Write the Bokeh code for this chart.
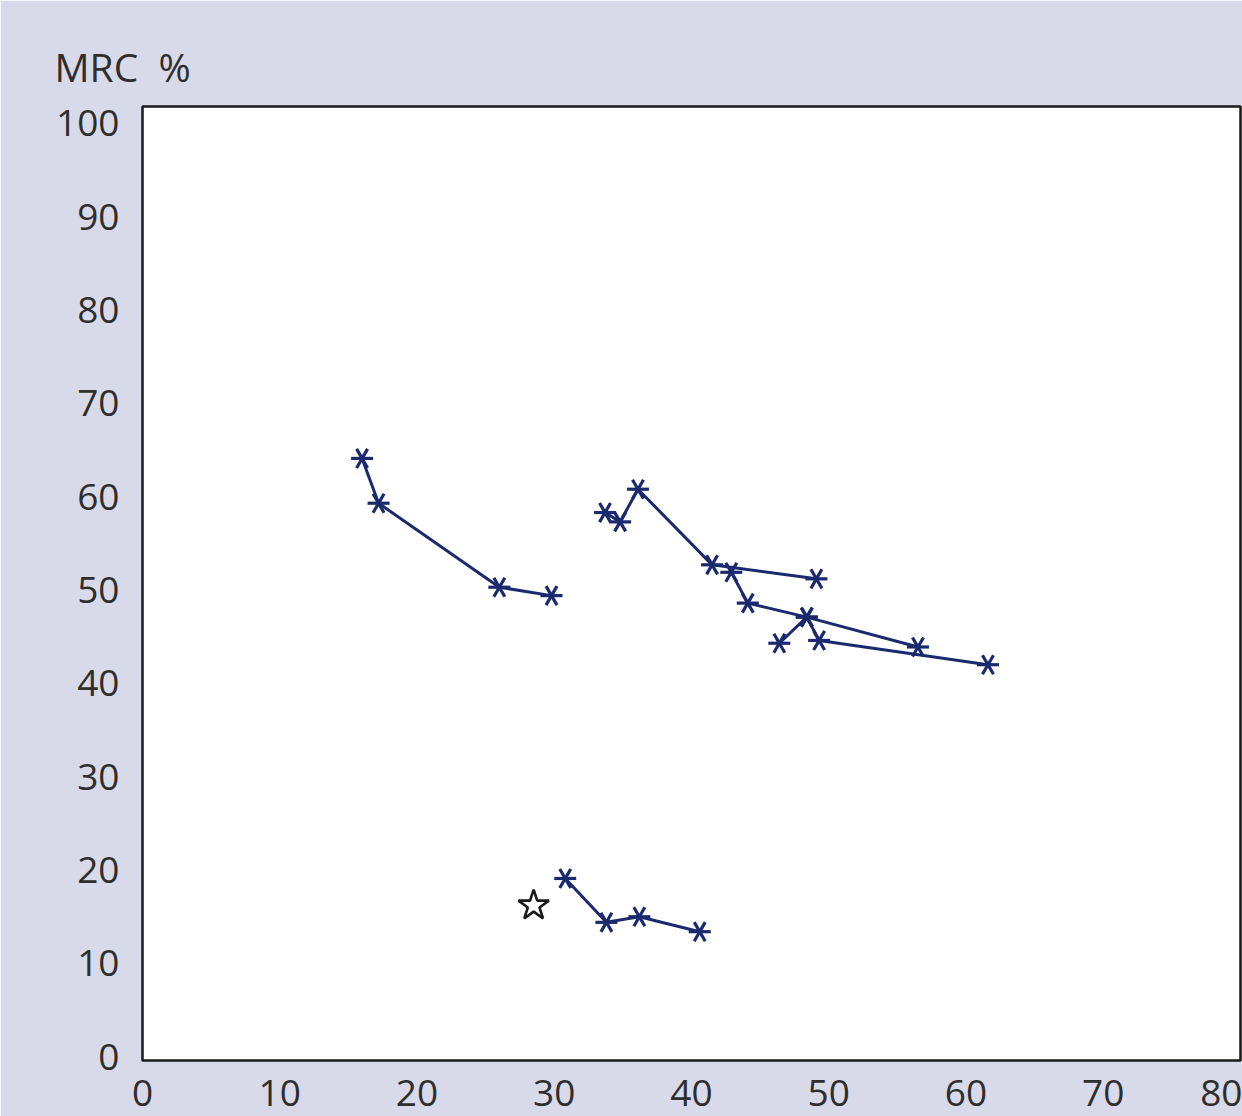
import math
from bokeh.plotting import figure
from bokeh.models import Range1d, FixedTicker
from bokeh.embed import file_html
from bokeh.resources import INLINE

# series (x: unnamed axis 0-80, y: MRC %)
s1_x = [16.0, 17.2, 26.0, 29.8]
s1_y = [64.1, 59.3, 50.3, 49.4]

s2_x = [33.7, 34.8, 36.1, 41.5, 49.1]
s2_y = [58.3, 57.3, 60.8, 52.7, 51.2]

s3_x = [42.9, 44.1, 48.4, 56.5]
s3_y = [51.9, 48.6, 47.1, 43.9]

s4_x = [46.4, 48.4, 49.3, 61.6]
s4_y = [44.3, 47.1, 44.6, 42.0]

s5_x = [30.8, 33.8, 36.2, 40.6]
s5_y = [19.1, 14.4, 15.0, 13.4]

star_x = [28.5]
star_y = [16.2]

x_ticks = [0, 10, 20, 30, 40, 50, 60, 70, 80]
y_ticks = [0, 10, 20, 30, 40, 50, 60, 70, 80, 90, 100]
y_title = "MRC  %"

BG = "#d9dae9"
NAVY = "#1b2a6e"
TXT = "#2e2e2e"
FONT = "Open Sans"

p = figure(width=1242, height=1116, output_backend="svg", toolbar_location=None,
           x_range=Range1d(0, 80), y_range=Range1d(-0.4, 101.8),
           min_border_left=142, min_border_top=106, min_border_bottom=56, min_border_right=2)
p.background_fill_color = "white"
p.border_fill_color = BG
p.outline_line_color = "#1a1a1a"
p.outline_line_width = 2.5
p.grid.visible = False

p.title.text = y_title.replace(" ", "\u00a0")
p.title.align = "left"
p.title.offset = -88
p.title.text_font = FONT
p.title.text_font_size = "39px"
p.title.text_font_style = "normal"
p.title.text_color = TXT
p.title.standoff = 27

for ax in (p.xaxis, p.yaxis):
    ax.axis_line_color = None
    ax.major_tick_line_color = None
    ax.minor_tick_line_color = None
    ax.major_tick_in = 0
    ax.major_tick_out = 0
    ax.minor_tick_out = 0
    ax.major_label_text_font = FONT
    ax.major_label_text_font_size = "37px"
    ax.major_label_text_color = TXT

p.xaxis.ticker = FixedTicker(ticks=x_ticks)
p.yaxis.ticker = FixedTicker(ticks=y_ticks)
p.xaxis.major_label_standoff = 19
p.yaxis.major_label_standoff = 23

all_x = []
all_y = []
for xs, ys in [(s1_x, s1_y), (s2_x, s2_y), (s3_x, s3_y), (s4_x, s4_y), (s5_x, s5_y)]:
    p.line(xs, ys, line_color=NAVY, line_width=3)
    all_x += xs
    all_y += ys

for ang in (0, math.pi / 3, -math.pi / 3):
    p.scatter(all_x, all_y, marker="dash", size=22, angle=ang,
              line_color=NAVY, line_width=3.2)

p.scatter(star_x, star_y, marker="star", size=32, fill_color="white",
          line_color="#1a1a1a", line_width=2.6)

html = file_html(p, INLINE)
html = html.replace("<body>", '<body style="background:%s">' % BG, 1)
open("out.html", "w").write(html)
